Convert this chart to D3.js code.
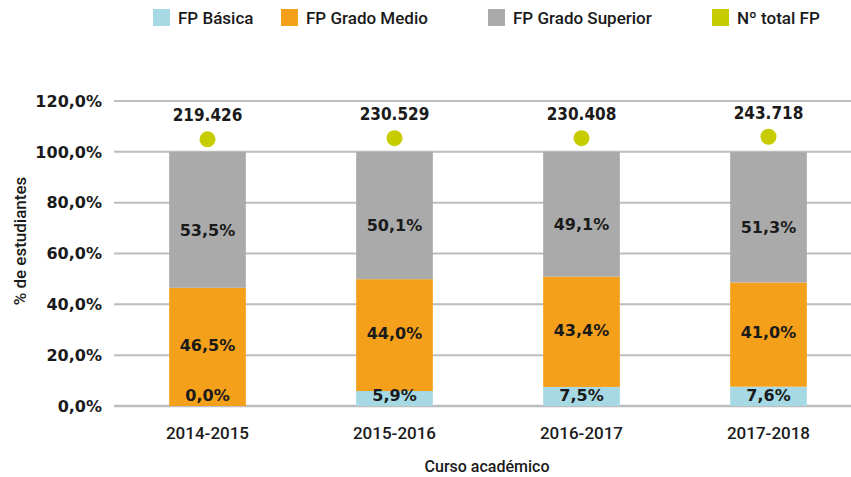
<!DOCTYPE html>
<html>
<head>
<meta charset="utf-8">
<script src="https://cdn.jsdelivr.net/npm/d3@7"></script>
<style>
  html, body { margin: 0; padding: 0; background: #fff; }
  svg { display: block; }
  .cond { font-family: Roboto, "DejaVu Sans Condensed", sans-serif; font-weight: 500; }
  .tot { font-family: "DejaVu Sans Condensed", "DejaVu Sans", sans-serif; font-weight: bold; }
  .num { font-family: "DejaVu Sans", sans-serif; font-weight: bold; }
</style>
</head>
<body>
<div id="chart"></div>
<script>
const CURSOS = ["2014-2015", "2015-2016", "2016-2017", "2017-2018"];
const SERIES = ["FP Básica", "FP Grado Medio", "FP Grado Superior"];
const FP_BASICA = [0.0, 5.9, 7.5, 7.6];
const FP_MEDIO = [46.5, 44.0, 43.4, 41.0];
const FP_SUPERIOR = [53.5, 50.1, 49.1, 51.3];
const TOTAL_FP = [219426, 230529, 230408, 243718];
const Y_TICKS = [0, 20, 40, 60, 80, 100, 120];

const COLORS = ["#a6d9e3", "#f5a01a", "#aaaaab"];
const DOT_COLOR = "#c6cc00";
const TEXT = "#1a1a1a";
// label nudges per series (px), the top labels sit a bit below centre in the original
const LABEL_NUDGE = { "FP Básica": 0, "FP Grado Medio": -2, "FP Grado Superior": 10 };

const width = 851, height = 477;
const margin = { top: 101, right: -11, bottom: 71, left: 114 };

const svg = d3.select("#chart").append("svg")
  .attr("width", width).attr("height", height);

const x = d3.scaleBand()
  .domain(CURSOS)
  .range([margin.left, width - margin.right])
  .paddingInner(0.59)
  .paddingOuter(0.295);

const y = d3.scaleLinear().domain([0, 120]).range([height - margin.bottom, margin.top]);

// hidden secondary axis for the totals
const y2 = d3.scaleLinear().domain([0, 250000]).range([162.8, 136.05]);

// gridlines
svg.append("g").selectAll("line")
  .data(Y_TICKS)
  .join("line")
  .attr("x1", margin.left).attr("x2", width)
  .attr("y1", (d) => y(d)).attr("y2", (d) => y(d))
  .attr("stroke", "#bdbdbd")
  .attr("stroke-width", (d) => d === 0 ? 2.5 : 2);

// y tick labels
svg.append("g").selectAll("text")
  .data(Y_TICKS)
  .join("text")
  .attr("class", "num")
  .attr("x", 102).attr("y", (d) => y(d))
  .attr("dy", "0.36em")
  .attr("text-anchor", "end")
  .attr("font-size", 16)
  .attr("fill", TEXT)
  .text((d) => d.toFixed(1).replace(".", ",") + "%");

// stacked data
const rows = CURSOS.map((c, i) => ({
  curso: c,
  "FP Básica": FP_BASICA[i],
  "FP Grado Medio": FP_MEDIO[i],
  "FP Grado Superior": FP_SUPERIOR[i],
}));
const stacked = d3.stack().keys(SERIES)(rows);

svg.append("g").selectAll("g")
  .data(stacked)
  .join("g")
  .attr("fill", (d, i) => COLORS[i])
  .selectAll("rect")
  .data((d) => d)
  .join("rect")
  .attr("x", (d) => x(d.data.curso))
  .attr("width", x.bandwidth())
  .attr("y", (d) => y(d[1]))
  .attr("height", (d) => y(d[0]) - y(d[1]));

// segment labels, drawn after all rects so the 0,0% one stays visible
const segLabels = stacked.flatMap((layer) => layer.map((s) => ({ s, key: layer.key })));
svg.append("g").selectAll("text")
  .data(segLabels)
  .join("text")
  .attr("class", "num")
  .attr("x", (d) => x(d.s.data.curso) + x.bandwidth() / 2)
  .attr("y", (d) => Math.min(y((d.s[0] + d.s[1]) / 2) + LABEL_NUDGE[d.key], y(0) - 11))
  .attr("dy", "0.36em")
  .attr("text-anchor", "middle")
  .attr("font-size", 16)
  .attr("fill", TEXT)
  .text((d) => d.s.data[d.key].toFixed(1).replace(".", ",") + "%");

// total dots
const totals = svg.append("g");
totals.selectAll("circle")
  .data(TOTAL_FP)
  .join("circle")
  .attr("cx", (d, i) => x(CURSOS[i]) + x.bandwidth() / 2)
  .attr("cy", (d) => y2(d))
  .attr("r", 8)
  .attr("fill", DOT_COLOR);

totals.selectAll("text")
  .data(TOTAL_FP)
  .join("text")
  .attr("class", "tot")
  .attr("x", (d, i) => x(CURSOS[i]) + x.bandwidth() / 2)
  .attr("y", (d) => y2(d) - 18)
  .attr("text-anchor", "middle")
  .attr("font-size", 17)
  .attr("fill", TEXT)
  .text((d) => d3.format(",")(d).replace(/,/g, "."));

// x labels
svg.append("g").selectAll("text")
  .data(CURSOS)
  .join("text")
  .attr("class", "cond")
  .attr("x", (d) => x(d) + x.bandwidth() / 2)
  .attr("y", 433)
  .attr("dy", "0.36em")
  .attr("text-anchor", "middle")
  .attr("font-size", 17)
  .attr("fill", TEXT)
  .text((d) => d);

svg.append("text")
  .attr("class", "cond")
  .attr("x", 487).attr("y", 466)
  .attr("dy", "0.36em")
  .attr("text-anchor", "middle")
  .attr("font-size", 16)
  .attr("fill", TEXT)
  .text("Curso académico");

svg.append("text")
  .attr("class", "cond")
  .attr("transform", "translate(20,241) rotate(-90)")
  .attr("dy", "0.36em")
  .attr("text-anchor", "middle")
  .attr("font-size", 17)
  .attr("fill", TEXT)
  .text("% de estudiantes");

// legend
const LEGEND_X = [153, 281, 488, 712];
const legendItems = SERIES.map((s, i) => ({ label: s, color: COLORS[i] }))
  .concat([{ label: "Nº total FP", color: DOT_COLOR }]);

const legend = svg.append("g").selectAll("g")
  .data(legendItems)
  .join("g")
  .attr("transform", (d, i) => `translate(${LEGEND_X[i]},9)`);

legend.append("rect")
  .attr("width", 17).attr("height", 17)
  .attr("fill", (d) => d.color);

legend.append("text")
  .attr("class", "cond")
  .attr("x", 25).attr("y", 9)
  .attr("dy", "0.36em")
  .attr("font-size", 17)
  .attr("fill", TEXT)
  .text((d) => d.label);
</script>
</body>
</html>
